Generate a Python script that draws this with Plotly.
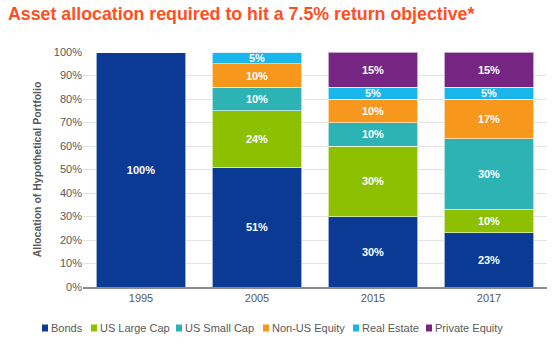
import plotly.graph_objects as go

years = ["1995", "2005", "2015", "2017"]
series_names = ["Bonds", "US Large Cap", "US Small Cap", "Non-US Equity", "Real Estate", "Private Equity"]
bonds = [100, 51, 30, 23]
us_large = [0, 24, 30, 10]
us_small = [0, 10, 10, 30]
non_us = [0, 10, 10, 17]
real_estate = [0, 5, 5, 5]
private_eq = [0, 0, 15, 15]
colors = ["#0a3a94", "#8cc000", "#2db3b3", "#f7981d", "#18b6ea", "#772583"]
legend_x_px = [42, 91, 176, 263, 353, 426]  # legend swatch left positions (px)

values = [bonds, us_large, us_small, non_us, real_estate, private_eq]

W, H = 555, 357
L, R, T, B = 83, 8, 52, 70
fig = go.Figure()
for name, vals, col in zip(series_names, values, colors):
    fig.add_trace(go.Bar(
        x=years, y=vals, name=name, showlegend=False,
        marker=dict(color=col, line=dict(color="rgba(255,255,255,0.6)", width=1)),
        text=[f"{v}%" if v > 0 else "" for v in vals],
        textposition="inside", insidetextanchor="middle",
        textfont=dict(color="white", size=11, family="Liberation Sans, Arial"),
        texttemplate="<b>%{text}</b>",
        width=0.77,
    ))

pw, ph = W - L - R, H - T - B
shapes = []
annotations = []
ly = 328
for name, col, lx in zip(series_names, colors, legend_x_px):
    shapes.append(dict(type="rect", xref="paper", yref="paper",
                       x0=(lx - L) / pw, x1=(lx + 6 - L) / pw,
                       y0=(H - B - (ly + 3.5)) / ph, y1=(H - B - (ly - 3.5)) / ph,
                       fillcolor=col, line=dict(width=0)))
    annotations.append(dict(text=name, xref="paper", yref="paper",
                            x=(lx + 7 - L) / pw, y=(H - B - ly) / ph,
                            xanchor="left", yanchor="middle", showarrow=False,
                            font=dict(size=11, color="#595959", family="Liberation Sans, Arial")))

fig.update_layout(
    barmode="stack",
    width=W, height=H,
    margin=dict(l=L, r=R, t=T, b=B),
    plot_bgcolor="white", paper_bgcolor="white",
    font=dict(family="Liberation Sans, Arial", color="#595959", size=11),
    title=dict(text="<b>Asset allocation required to hit a 7.5% return objective*</b>",
               x=8 / W, xanchor="left", y=0.962, yanchor="middle",
               font=dict(color="#ff4f1f", size=17.8, family="Liberation Sans, Arial")),
    showlegend=False,
    shapes=shapes,
    annotations=annotations,
    uniformtext=dict(minsize=8, mode="show"),
)
fig.update_yaxes(range=[0, 100], tickvals=list(range(0, 101, 10)),
                 ticktext=[f"{v}%" for v in range(0, 101, 10)],
                 showgrid=True, gridcolor="#e3e3e3", gridwidth=1,
                 zeroline=False, ticks="", tickfont=dict(size=11, color="#595959"),
                 title=dict(text="<b>Allocation of Hypothetical Portfolio</b>",
                            font=dict(size=10.5, color="#595959"), standoff=10))
fig.update_xaxes(showline=True, linecolor="#8c8c8c", linewidth=2,
                 tickfont=dict(size=11, color="#595959"), ticks="")

fig.write_html("out.html", config={"displayModeBar": False},
               post_script="document.body.style.margin='0';")
